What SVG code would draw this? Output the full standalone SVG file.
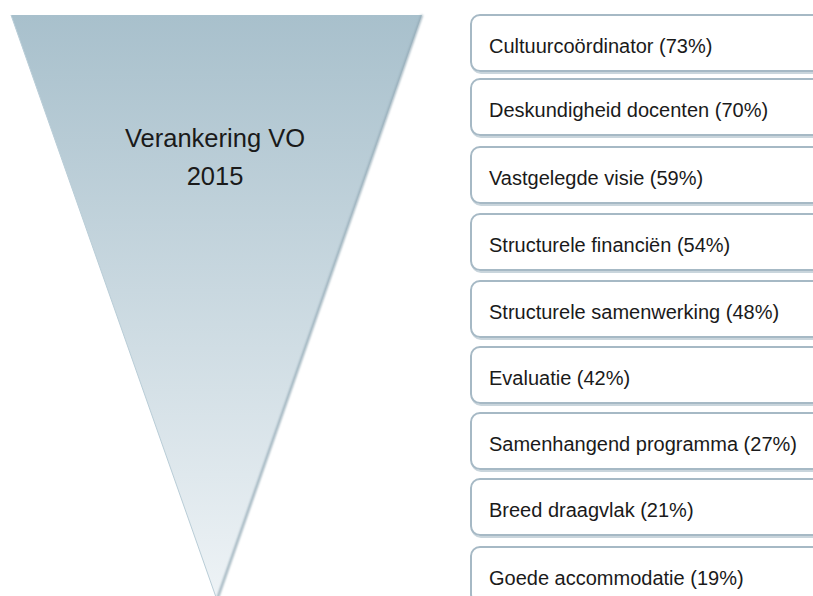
<svg xmlns="http://www.w3.org/2000/svg" width="813" height="596" viewBox="0 0 813 596">
<defs>
<linearGradient id="tg" x1="0" y1="15" x2="0" y2="600" gradientUnits="userSpaceOnUse">
<stop offset="0" stop-color="#a8c0cc"/>
<stop offset="1" stop-color="#eef3f6"/>
</linearGradient>
<filter id="sh" x="-5%" y="-5%" width="110%" height="110%">
<feGaussianBlur stdDeviation="0.8"/>
</filter>
</defs>
<style>
.box{fill:#ffffff;stroke:#a6b9c5;stroke-width:2}
.bs{fill:none;stroke:#c9d5dc;stroke-width:2}
.lbl{font-family:"Liberation Sans",Arial,sans-serif;font-size:20px;fill:#1a1a1a}
.title{font-family:"Liberation Sans",Arial,sans-serif;font-size:25.5px;fill:#1a1a1a;text-anchor:middle}
</style>
<rect width="813" height="596" fill="#ffffff"/>
<g id="funnel">
<polygon points="11,15 422,15 217,600" fill="url(#tg)"/>
<line x1="422" y1="15" x2="217" y2="600" stroke="#8fa6b2" stroke-width="2" filter="url(#sh)"/>
<line x1="11" y1="15" x2="217" y2="600" stroke="#b9cdd7" stroke-width="1"/>
<text class="title" x="215" y="147">Verankering VO</text>
<text class="title" x="215" y="185">2015</text>
</g>
<g id="connectors"></g>
<g id="n1"><rect class="bs" x="472" y="17" width="400" height="56" rx="9"/><rect class="box" x="471" y="15" width="400" height="56" rx="9"/><text class="lbl" x="489" y="53">Cultuurcoördinator (73%)</text></g>
<g id="n2"><rect class="bs" x="472" y="81" width="400" height="56" rx="9"/><rect class="box" x="471" y="79" width="400" height="56" rx="9"/><text class="lbl" x="489" y="117">Deskundigheid docenten (70%)</text></g>
<g id="n3"><rect class="bs" x="472" y="149" width="400" height="56" rx="9"/><rect class="box" x="471" y="147" width="400" height="56" rx="9"/><text class="lbl" x="489" y="185">Vastgelegde visie (59%)</text></g>
<g id="n4"><rect class="bs" x="472" y="216" width="400" height="56" rx="9"/><rect class="box" x="471" y="214" width="400" height="56" rx="9"/><text class="lbl" x="489" y="252">Structurele financiën (54%)</text></g>
<g id="n5"><rect class="bs" x="472" y="283" width="400" height="56" rx="9"/><rect class="box" x="471" y="281" width="400" height="56" rx="9"/><text class="lbl" x="489" y="319">Structurele samenwerking (48%)</text></g>
<g id="n6"><rect class="bs" x="472" y="349" width="400" height="56" rx="9"/><rect class="box" x="471" y="347" width="400" height="56" rx="9"/><text class="lbl" x="489" y="385">Evaluatie (42%)</text></g>
<g id="n7"><rect class="bs" x="472" y="415" width="400" height="56" rx="9"/><rect class="box" x="471" y="413" width="400" height="56" rx="9"/><text class="lbl" x="489" y="451">Samenhangend programma (27%)</text></g>
<g id="n8"><rect class="bs" x="472" y="481" width="400" height="56" rx="9"/><rect class="box" x="471" y="479" width="400" height="56" rx="9"/><text class="lbl" x="489" y="517">Breed draagvlak (21%)</text></g>
<g id="n9"><rect class="bs" x="472" y="549" width="400" height="56" rx="9"/><rect class="box" x="471" y="547" width="400" height="56" rx="9"/><text class="lbl" x="489" y="585">Goede accommodatie (19%)</text></g>
</svg>
